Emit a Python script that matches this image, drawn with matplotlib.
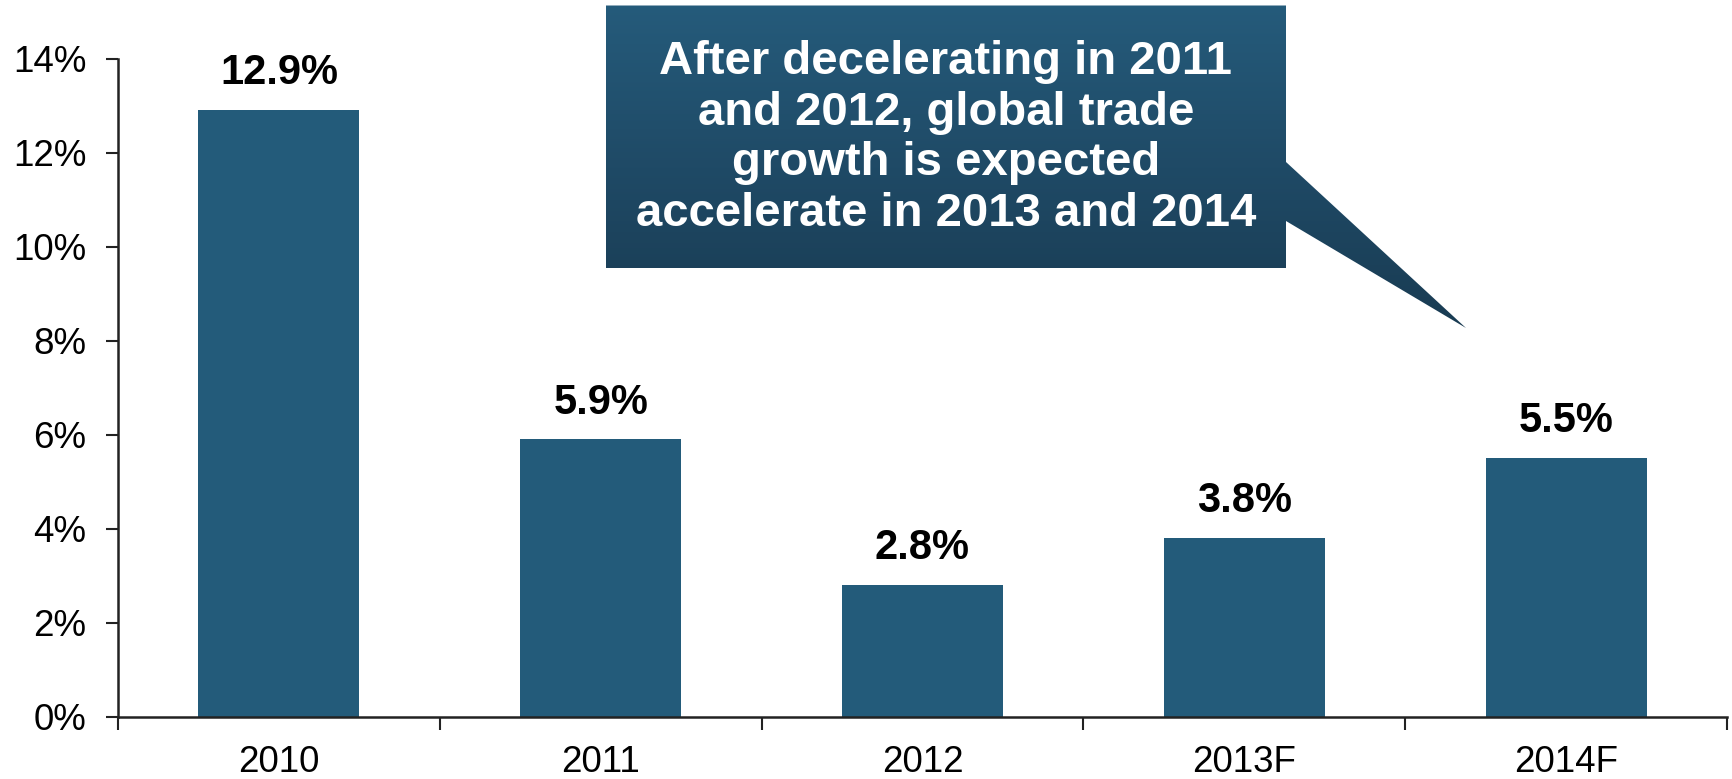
import matplotlib.pyplot as plt
import numpy as np
from matplotlib.colors import LinearSegmentedColormap
from matplotlib.patches import Polygon

plt.rcParams['font.family'] = ['Liberation Sans', 'DejaVu Sans']

years = ['2010', '2011', '2012', '2013F', '2014F']
growth = [12.9, 5.9, 2.8, 3.8, 5.5]
y_ticks = [0, 2, 4, 6, 8, 10, 12, 14]
callout_lines = ['After decelerating in 2011',
                 'and 2012, global trade',
                 'growth is expected',
                 'accelerate in 2013 and 2014']

BAR = '#235B7A'
W, H = 1733, 779

fig = plt.figure(figsize=(W / 100, H / 100), dpi=100)
ax = fig.add_axes([118 / W, (H - 717) / H, (1727 - 118) / W, (717 - 58.5) / H])

x = np.arange(len(years))
ax.bar(x, growth, width=0.5, color=BAR, zorder=2)
for xi, v in zip(x, growth):
    ax.annotate(f'{v:.1f}%', (xi, v), xytext=(0, 18.7), textcoords='offset points',
                ha='center', va='baseline', fontsize=30, fontweight='bold')

ax.set_xlim(-0.5, len(years) - 0.5)
ax.set_ylim(0, 14)
ax.set_yticks(y_ticks)
ax.set_yticklabels([f'{t}%' for t in y_ticks], fontsize=26.5)
ax.set_xticks(x)
ax.set_xticklabels(years, fontsize=26.5)
ax.set_xticks(np.arange(len(years) + 1) - 0.5, minor=True)
ax.tick_params(axis='x', which='major', length=0, pad=20)
ax.tick_params(axis='x', which='minor', length=9.5, width=1.5, direction='out', color='#222222')
ax.tick_params(axis='y', length=8.6, width=1.5, pad=14, color='#222222')
for s in ['top', 'right']:
    ax.spines[s].set_visible(False)
for s in ['left', 'bottom']:
    ax.spines[s].set_linewidth(1.8)
    ax.spines[s].set_color('#222222')
ax.spines['bottom'].set_zorder(3)

# speech-bubble callout drawn in figure pixel space
ov = fig.add_axes([0, 0, 1, 1], zorder=5)
ov.set_xlim(0, W)
ov.set_ylim(H, 0)
ov.axis('off')
ov.patch.set_alpha(0)

box_l, box_r, box_t, box_b = 606, 1286, 5.5, 268
bubble = [(box_l, box_t), (box_r, box_t), (box_r, 162), (1466, 328),
          (box_r, 221), (box_r, box_b), (box_l, box_b)]
poly = Polygon(bubble, closed=True, facecolor='none', edgecolor='none')
ov.add_patch(poly)
cmap = LinearSegmentedColormap.from_list('bub', ['#255B7B', '#1F4A66', '#193B52'])
grad = np.linspace(0, 1, 256).reshape(-1, 1)
img = ov.imshow(grad, cmap=cmap, aspect='auto', extent=(box_l, 1470, 330, box_t),
                interpolation='bilinear')
img.set_clip_path(poly)

cx = (box_l + box_r) / 2
for line, yb in zip(callout_lines, [74, 124.5, 175, 225.5]):
    ov.text(cx, yb, line, ha='center', va='baseline', color='white',
            fontsize=34, fontweight='bold')

fig.savefig('out.png', dpi=100)
